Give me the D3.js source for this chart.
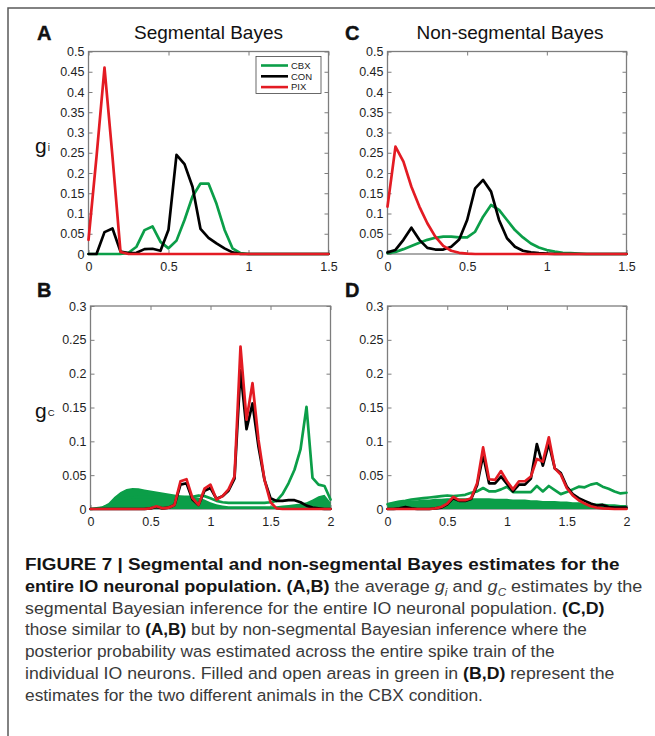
<!DOCTYPE html>
<html>
<head>
<meta charset="utf-8">
<script src="https://cdn.jsdelivr.net/npm/d3@7"></script>
<style>
  body { margin: 0; background: #fff; }
  svg { display: block; }
  text { font-family: "Liberation Sans", Arial, Helvetica, sans-serif; }
</style>
</head>
<body>
<svg id="fig" width="655" height="736"></svg>
<script>
// ---- grids of g values (x axis) ----
const gridGi = [0, 0.05, 0.1, 0.15, 0.2, 0.25, 0.3, 0.35, 0.4, 0.45, 0.5, 0.55, 0.6, 0.65, 0.7, 0.75,
  0.8, 0.85, 0.9, 0.95, 1, 1.05, 1.1, 1.15, 1.2, 1.25, 1.3, 1.35, 1.4, 1.45, 1.5];
const gridGc = [0, 0.05, 0.1, 0.15, 0.2, 0.25, 0.3, 0.35, 0.4, 0.45, 0.5, 0.55, 0.6, 0.65, 0.7, 0.75,
  0.8, 0.85, 0.9, 0.95, 1, 1.05, 1.1, 1.15, 1.2, 1.25, 1.3, 1.35, 1.4, 1.45, 1.5, 1.55, 1.6, 1.65,
  1.7, 1.75, 1.8, 1.85, 1.9, 1.95, 2];

// ---- A: segmental Bayes, gi ----
const segGiCBX = [0, 0, 0, 0, 0, 0.003, 0.018, 0.059, 0.068, 0.03, 0.014, 0.033, 0.084, 0.142, 0.174, 0.174,
  0.124, 0.06, 0.014, 0.002, 0, 0, 0, 0, 0, 0, 0, 0, 0, 0, 0];
const segGiCON = [0, 0, 0.054, 0.063, 0.006, 0.002, 0.003, 0.012, 0.013, 0.008, 0.06, 0.245, 0.222, 0.166, 0.062, 0.04,
  0.026, 0.014, 0.004, 0, 0, 0, 0, 0, 0, 0, 0, 0, 0, 0, 0];
const segGiPIX = [0.035, 0.24, 0.46, 0.24, 0.005, 0, 0, 0, 0, 0, 0, 0, 0, 0, 0, 0,
  0, 0, 0, 0, 0, 0, 0, 0, 0, 0, 0, 0, 0, 0, 0];

// ---- C: non-segmental Bayes, gi ----
const nonGiCBX = [0.002, 0.005, 0.012, 0.02, 0.028, 0.035, 0.04, 0.043, 0.043, 0.041, 0.041, 0.055, 0.092, 0.121, 0.109, 0.084,
  0.059, 0.041, 0.026, 0.016, 0.01, 0.006, 0.003, 0.002, 0.001, 0, 0, 0, 0, 0, 0];
const nonGiCON = [0.004, 0.01, 0.035, 0.065, 0.035, 0.015, 0.011, 0.011, 0.018, 0.036, 0.084, 0.162, 0.183, 0.154, 0.084, 0.039,
  0.018, 0.008, 0.004, 0.002, 0.001, 0, 0, 0, 0, 0, 0, 0, 0, 0, 0];
const nonGiPIX = [0.117, 0.265, 0.228, 0.166, 0.117, 0.076, 0.043, 0.02, 0.008, 0.003, 0.001, 0, 0, 0, 0, 0,
  0, 0, 0, 0, 0, 0, 0, 0, 0, 0, 0, 0, 0, 0, 0];

// ---- B: segmental Bayes, gc ----
const segGcCBXfilled = [0.0005, 0.0015, 0.004, 0.009, 0.018, 0.025, 0.0295, 0.031, 0.0305, 0.029, 0.0275, 0.026, 0.0245, 0.023,
  0.0215, 0.02, 0.019, 0.018, 0.017, 0.014, 0.01, 0.007, 0.005, 0.004, 0.004, 0.004, 0.004, 0.004, 0.004, 0.004,
  0.004, 0.004, 0.005, 0.006, 0.007, 0.008, 0.01, 0.014, 0.019, 0.021, 0.01];
const segGcCBXopen = [0, 0.001, 0.002, 0.005, 0.009, 0.013, 0.016, 0.017, 0.018, 0.018, 0.018, 0.018, 0.018, 0.018,
  0.018, 0.018, 0.018, 0.018, 0.02, 0.019, 0.016, 0.012, 0.01, 0.009, 0.009, 0.009, 0.009, 0.009, 0.009, 0.009,
  0.01, 0.012, 0.022, 0.038, 0.058, 0.088, 0.151, 0.046, 0.036, 0.034, 0.014];
const segGcCON = [0, 0, 0, 0, 0, 0, 0, 0, 0, 0, 0.001, 0.003, 0.001, 0.002, 0.006, 0.036, 0.038, 0.014, 0.006, 0.027,
  0.031, 0.015, 0.019, 0.027, 0.045, 0.205, 0.118, 0.156, 0.092, 0.043, 0.016, 0.012, 0.012, 0.013, 0.013, 0.01,
  0.005, 0.002, 0.001, 0, 0];
const segGcPIX = [0, 0, 0, 0, 0, 0, 0, 0, 0, 0, 0.001, 0.004, 0.001, 0.002, 0.006, 0.041, 0.044, 0.016, 0.006, 0.03,
  0.036, 0.014, 0.019, 0.029, 0.048, 0.24, 0.132, 0.186, 0.102, 0.043, 0.01, 0.001, 0, 0, 0, 0,
  0, 0, 0, 0, 0];

// ---- D: non-segmental Bayes, gc ----
const nonGcCBXfilled = [0.009, 0.01, 0.011, 0.012, 0.013, 0.013, 0.014, 0.014, 0.015, 0.015, 0.016, 0.016, 0.016, 0.016,
  0.016, 0.016, 0.016, 0.016, 0.015, 0.015, 0.015, 0.014, 0.014, 0.014, 0.013, 0.013, 0.012, 0.012, 0.012, 0.011,
  0.011, 0.01, 0.01, 0.009, 0.009, 0.008, 0.008, 0.007, 0.007, 0.006, 0.006];
const nonGcCBXopen = [0.007, 0.009, 0.011, 0.012, 0.014, 0.015, 0.016, 0.017, 0.018, 0.019, 0.02, 0.019, 0.02, 0.021,
  0.024, 0.026, 0.031, 0.026, 0.026, 0.029, 0.033, 0.025, 0.025, 0.025, 0.025, 0.034, 0.026, 0.034, 0.028, 0.022,
  0.025, 0.029, 0.033, 0.032, 0.036, 0.038, 0.033, 0.03, 0.026, 0.023, 0.024];
const nonGcCON = [0, 0, 0.001, 0.003, 0.001, 0, 0, 0, 0.001, 0.002, 0.007, 0.016, 0.012, 0.012, 0.015, 0.035, 0.08,
  0.038, 0.038, 0.048, 0.037, 0.026, 0.036, 0.036, 0.045, 0.096, 0.064, 0.097, 0.06, 0.053, 0.033, 0.022, 0.016,
  0.012, 0.008, 0.005, 0.006, 0.003, 0.002, 0.002, 0.002];
const nonGcPIX = [0, 0, 0, 0, 0, 0, 0, 0, 0.001, 0.003, 0.008, 0.018, 0.013, 0.013, 0.016, 0.038, 0.091,
  0.044, 0.043, 0.056, 0.041, 0.029, 0.041, 0.041, 0.048, 0.074, 0.07, 0.106, 0.06, 0.051, 0.031, 0.02, 0.013,
  0.008, 0.004, 0.002, 0.001, 0.0005, 0, 0, 0];

// ---- ticks and labels ----
const giTicksX = [0, 0.5, 1, 1.5];
const giTicksY = [0, 0.05, 0.1, 0.15, 0.2, 0.25, 0.3, 0.35, 0.4, 0.45, 0.5];
const gcTicksX = [0, 0.5, 1, 1.5, 2];
const gcTicksY = [0, 0.05, 0.1, 0.15, 0.2, 0.25, 0.3];
const legendNames = ["CBX", "CON", "PIX"];
const titles = ["Segmental Bayes", "Non-segmental Bayes"];

const GREEN = "#0b9e48", BLACK = "#000000", RED = "#e31b23";
const legendColors = [GREEN, BLACK, RED];

const svg = d3.select("#fig");
svg.append("rect").attr("width", 655).attr("height", 736).attr("fill", "#fff");

// frame around the figure
svg.append("path").attr("d", "M8,736V8H655").attr("fill", "none")
  .attr("stroke", "#5a5a5a").attr("stroke-width", 1.5);

const fmt = d => String(+d.toFixed(2));

function makePanel(o) {
  const x = d3.scaleLinear().domain(o.xDomain).range([o.l, o.r]);
  const y = d3.scaleLinear().domain(o.yDomain).range([o.b, o.t]);
  const g = svg.append("g");

  g.append("rect").attr("x", o.l).attr("y", o.t).attr("width", o.r - o.l).attr("height", o.b - o.t)
    .attr("fill", "#fff").attr("stroke", "#7d7d7d").attr("stroke-width", 1.3);

  const styleAxis = sel => {
    sel.select(".domain").remove();
    sel.selectAll(".tick line").attr("stroke", "#7d7d7d").attr("stroke-width", 1);
    sel.selectAll(".tick text").attr("fill", "#1e1e1e").style("font-size", "12.5px")
      .style("font-family", '"Liberation Sans", Arial, sans-serif');
  };

  g.append("g").attr("transform", `translate(0,${o.b})`)
    .call(d3.axisBottom(x).tickValues(o.xTicks).tickSize(-4).tickSizeOuter(0).tickPadding(8).tickFormat(fmt))
    .call(styleAxis);
  g.append("g").attr("transform", `translate(0,${o.t})`)
    .call(d3.axisTop(x).tickValues(o.xTicks).tickSize(-4).tickSizeOuter(0).tickFormat(""))
    .call(styleAxis);
  g.append("g").attr("transform", `translate(${o.l},0)`)
    .call(d3.axisLeft(y).tickValues(o.yTicks).tickSize(-4).tickSizeOuter(0).tickPadding(4).tickFormat(fmt))
    .call(styleAxis);
  g.append("g").attr("transform", `translate(${o.r},0)`)
    .call(d3.axisRight(y).tickValues(o.yTicks).tickSize(-4).tickSizeOuter(0).tickFormat(""))
    .call(styleAxis);

  const line = xs => d3.line().x((d, i) => x(xs[i])).y(d => y(d));
  const area = xs => d3.area().x((d, i) => x(xs[i])).y0(y(0)).y1(d => y(d));

  if (o.filled) {
    g.append("path").datum(o.filled).attr("d", area(o.grid)).attr("fill", GREEN);
  }
  o.series.forEach(s => {
    g.append("path").datum(s.values).attr("d", line(o.grid)).attr("fill", "none")
      .attr("stroke", s.color).attr("stroke-width", 2.7)
      .attr("stroke-linejoin", "round").attr("stroke-linecap", "round");
  });
  return { x, y, g };
}

const pA = makePanel({ l: 88.5, r: 328.5, t: 51.5, b: 254, xDomain: [0, 1.5], yDomain: [0, 0.5],
  xTicks: giTicksX, yTicks: giTicksY, grid: gridGi,
  series: [{ values: segGiCBX, color: GREEN }, { values: segGiCON, color: BLACK }, { values: segGiPIX, color: RED }] });
const pC = makePanel({ l: 387.5, r: 626.5, t: 51.5, b: 254, xDomain: [0, 1.5], yDomain: [0, 0.5],
  xTicks: giTicksX, yTicks: giTicksY, grid: gridGi,
  series: [{ values: nonGiCBX, color: GREEN }, { values: nonGiCON, color: BLACK }, { values: nonGiPIX, color: RED }] });
const pB = makePanel({ l: 90.5, r: 330.5, t: 306, b: 509, xDomain: [0, 2], yDomain: [0, 0.3],
  xTicks: gcTicksX, yTicks: gcTicksY, grid: gridGc, filled: segGcCBXfilled,
  series: [{ values: segGcCBXopen, color: GREEN }, { values: segGcCON, color: BLACK }, { values: segGcPIX, color: RED }] });
const pD = makePanel({ l: 387.5, r: 626.5, t: 306, b: 509, xDomain: [0, 2], yDomain: [0, 0.3],
  xTicks: gcTicksX, yTicks: gcTicksY, grid: gridGc, filled: nonGcCBXfilled,
  series: [{ values: nonGcCBXopen, color: GREEN }, { values: nonGcCON, color: BLACK }, { values: nonGcPIX, color: RED }] });

// panel letters and titles
const letter = (t, x, y) => svg.append("text").attr("x", x).attr("y", y).text(t)
  .style("font-size", "20px").style("font-weight", "bold").attr("fill", "#111")
  .attr("stroke", "#111").attr("stroke-width", 0.4);
letter("A", 37, 39.5); letter("C", 345, 39.5); letter("B", 37, 297); letter("D", 345, 297);

svg.append("text").attr("x", 208.5).attr("y", 38.5).attr("text-anchor", "middle")
  .style("font-size", "19px").attr("fill", "#111").text(titles[0]);
svg.append("text").attr("x", 510).attr("y", 38.5).attr("text-anchor", "middle")
  .style("font-size", "19px").attr("fill", "#111").text(titles[1]);

// y axis symbols
const ylab = (x, y, sub, subSize) => {
  const t = svg.append("text").attr("x", x).attr("y", y).attr("fill", "#111").style("font-size", "21px");
  t.append("tspan").text("g");
  t.append("tspan").attr("dx", 1).attr("dy", -2).style("font-size", subSize).text(sub);
};
ylab(35, 153, "i", "10px");
ylab(35, 418, "C", "9.5px");

// legend in panel A
const lg = svg.append("g");
lg.append("rect").attr("x", 256).attr("y", 56.5).attr("width", 65).attr("height", 37)
  .attr("fill", "#fff").attr("stroke", "#444").attr("stroke-width", 0.8);
legendNames.forEach((n, i) => {
  const yy = 65.5 + i * 10.8;
  lg.append("line").attr("x1", 261).attr("x2", 288).attr("y1", yy).attr("y2", yy)
    .attr("stroke", legendColors[i]).attr("stroke-width", 2.6);
  lg.append("text").attr("x", 291).attr("y", yy + 3.3).style("font-size", "9.5px").attr("fill", "#222").text(n);
});

// caption
const captionLines = [
  { w: 595, parts: [{ t: "FIGURE 7 | Segmental and non-segmental Bayes estimates for the", b: true }] },
  { w: 618, parts: [{ t: "entire IO neuronal population. (A,B)", b: true }, { t: " the average " },
    { t: "g", i: true }, { t: "i", i: true, sub: true }, { t: " and " }, { t: "g", i: true },
    { t: "C", i: true, sub: true }, { t: " estimates by the" }] },
  { w: 580, parts: [{ t: "segmental Bayesian inference for the entire IO neuronal population. " }, { t: "(C,D)", b: true }] },
  { w: 562, parts: [{ t: "those similar to " }, { t: "(A,B)", b: true }, { t: " but by non-segmental Bayesian inference where the" }] },
  { w: 530, parts: [{ t: "posterior probability was estimated across the entire spike train of the" }] },
  { w: 590, parts: [{ t: "individual IO neurons. Filled and open areas in green in " }, { t: "(B,D)", b: true }, { t: " represent the" }] },
  { w: 458, parts: [{ t: "estimates for the two different animals in the CBX condition." }] }
];
captionLines.forEach((ln, k) => {
  const y0 = 570 + k * 21.8;
  const g = svg.append("g");
  const t = g.append("text").attr("x", 0).attr("y", 0).style("font-size", "17px");
  let shifted = false;
  ln.parts.forEach(p => {
    const s = t.append("tspan").text(p.t)
      .attr("fill", p.b ? "#151515" : "#3a3a3a")
      .style("font-weight", p.b ? "bold" : "normal")
      .style("font-style", p.i ? "italic" : "normal");
    if (p.sub) { s.attr("dy", 4).style("font-size", "11px"); shifted = true; }
    else if (shifted) { s.attr("dy", -4); shifted = false; }
  });
  const w = t.node().getComputedTextLength();
  g.attr("transform", `translate(25,${y0}) scale(${ln.w / w},1)`);
});
</script>
</body>
</html>
